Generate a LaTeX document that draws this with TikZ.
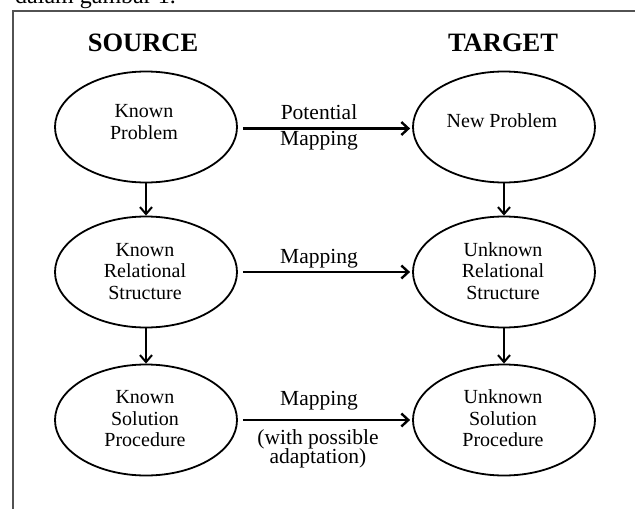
\documentclass[tikz,border=0pt]{standalone}
\usepackage{fontspec}
\setmainfont{Liberation Serif}
\usetikzlibrary{shapes.geometric,arrows.meta}
\tikzset{
  oval/.style={ellipse, draw=black, line width=1.8pt, minimum width=182pt, minimum height=111pt, inner sep=0pt},
  ovaltext/.style={anchor=base, align=center, inner sep=0pt, font=\fontsize{20}{21.5}\selectfont},
  lbl/.style={anchor=base, align=center, inner sep=0pt, font=\fontsize{21.5}{21}\selectfont},
  head/.style={anchor=base, inner sep=0pt, font=\fontsize{26.5}{30}\selectfont\bfseries},
  varrow/.style={line width=2pt, -{Straight Barb[length=7pt,width=12pt,line width=2pt]}},
  harrow/.style={line width=2.6pt, -{Straight Barb[length=7pt,width=13pt,line width=2.4pt]}},
  frame/.style={draw=black!68, line width=1.5pt}
}
\begin{document}
\begin{tikzpicture}[x=1pt,y=-1pt]
\useasboundingbox (0,0) rectangle (635,509);
% cut-off preceding text line
\node[anchor=base west, inner sep=0pt, font=\fontsize{24}{28}\selectfont] (prev) at (15,3.5) {dalam gambar 1.};
% frame
\coordinate (fa) at (13,520);
\coordinate (fb) at (13,11);
\coordinate (fc) at (640,11);
\draw[frame] (fa) -- (fb) -- (fc);
% headers
\node[head] (src) at (143,51.5) {SOURCE};
\node[head] (tgt) at (503,51.5) {TARGET};
% ellipses
\node[oval] (kp) at (146,127) {};
\node[oval] (np) at (504,127) {};
\node[oval] (kr) at (146,272) {};
\node[oval] (ur) at (504,272) {};
\node[oval] (ks) at (146,420) {};
\node[oval] (us) at (504,420) {};
% texts in ellipses (base = baseline of last line)
\node[ovaltext] (kpt) at (144,139.3) {Known\\Problem};
\node[ovaltext] (npt) at (502,127.7) {New Problem};
\node[ovaltext] (krt) at (145,299.3) {Known\\Relational\\Structure};
\node[ovaltext] (urt) at (503,299) {Unknown\\Relational\\Structure};
\node[ovaltext] (kst) at (145,446.7) {Known\\Solution\\Procedure};
\node[ovaltext] (ust) at (503,446.7) {Unknown\\Solution\\Procedure};
% vertical arrows
\draw[varrow] (kp.south) -- (kr.north);
\draw[varrow] (kr.south) -- (ks.north);
\draw[varrow] (np.south) -- (ur.north);
\draw[varrow] (ur.south) -- (us.north);
% horizontal arrows
\draw[harrow] ([xshift=5pt,yshift=-1.5pt]kp.east) -- ([xshift=-2pt,yshift=-1.5pt]np.west);
\draw[harrow] ([xshift=5pt]kr.east) -- ([xshift=-2pt]ur.west);
\draw[harrow] ([xshift=5pt]ks.east) -- ([xshift=-2pt]us.west);
% labels
\node[lbl] (l1a) at (319,119.3) {Potential};
\node[lbl] (l1b) at (319,145) {Mapping};
\node[lbl] (l2) at (319,263.5) {Mapping};
\node[lbl] (l3a) at (319,405) {Mapping};
\node[lbl] (l3b) at (318,444) {(with possible};
\node[lbl] (l3c) at (318,463.5) {adaptation)};
\end{tikzpicture}
\end{document}
